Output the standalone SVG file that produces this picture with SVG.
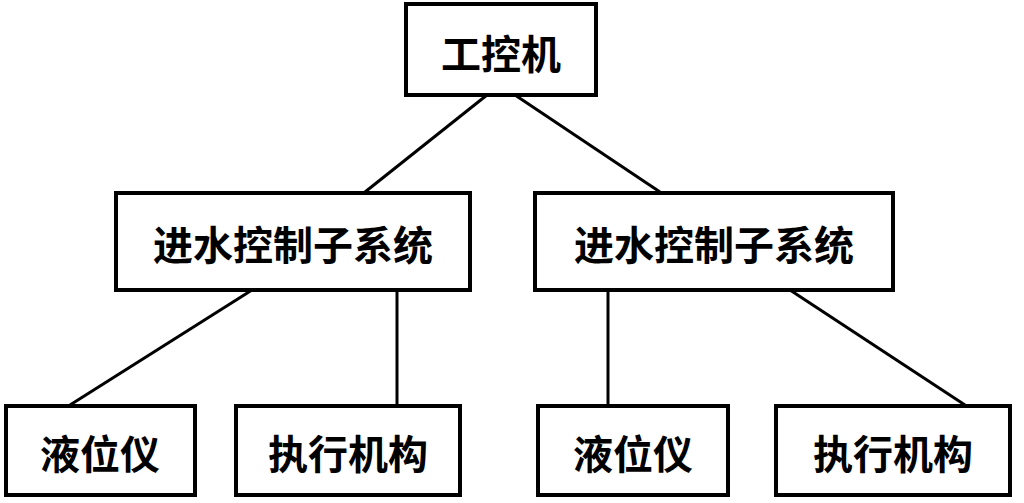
<svg xmlns="http://www.w3.org/2000/svg" width="1024" height="503" viewBox="0 0 1024 503">
<style>
rect{fill:#fff;stroke:#000;stroke-width:4}
text{font-family:"Noto Sans CJK SC",sans-serif;font-size:40px;font-weight:bold;text-anchor:middle;dominant-baseline:central;fill:#000}
#edges line{stroke:#000;stroke-width:3}
</style>
<rect width="1024" height="503" style="fill:#fff;stroke:none"/>
<g id="edges">
<line x1="487" y1="95" x2="365" y2="192"/>
<line x1="515" y1="95" x2="660" y2="192"/>
<line x1="252" y1="290" x2="70" y2="405"/>
<line x1="397" y1="285" x2="397" y2="405"/>
<line x1="608" y1="285" x2="608" y2="405"/>
<line x1="790" y1="290" x2="965" y2="405"/>
</g>
<g id="n0"><rect x="406" y="4" width="190" height="91"/><text x="501" y="52">工控机</text></g>
<g id="n1"><rect x="116" y="193" width="354" height="97"/><text x="293" y="243">进水控制子系统</text></g>
<g id="n2"><rect x="535" y="193" width="358" height="97"/><text x="714" y="243">进水控制子系统</text></g>
<g id="n3"><rect x="6" y="406" width="189" height="89"/><text x="100" y="452">液位仪</text></g>
<g id="n4"><rect x="236" y="406" width="224" height="89"/><text x="348" y="452">执行机构</text></g>
<g id="n5"><rect x="538" y="406" width="190" height="89"/><text x="633" y="452">液位仪</text></g>
<g id="n6"><rect x="776" y="406" width="234" height="89"/><text x="893" y="452">执行机构</text></g>
</svg>
